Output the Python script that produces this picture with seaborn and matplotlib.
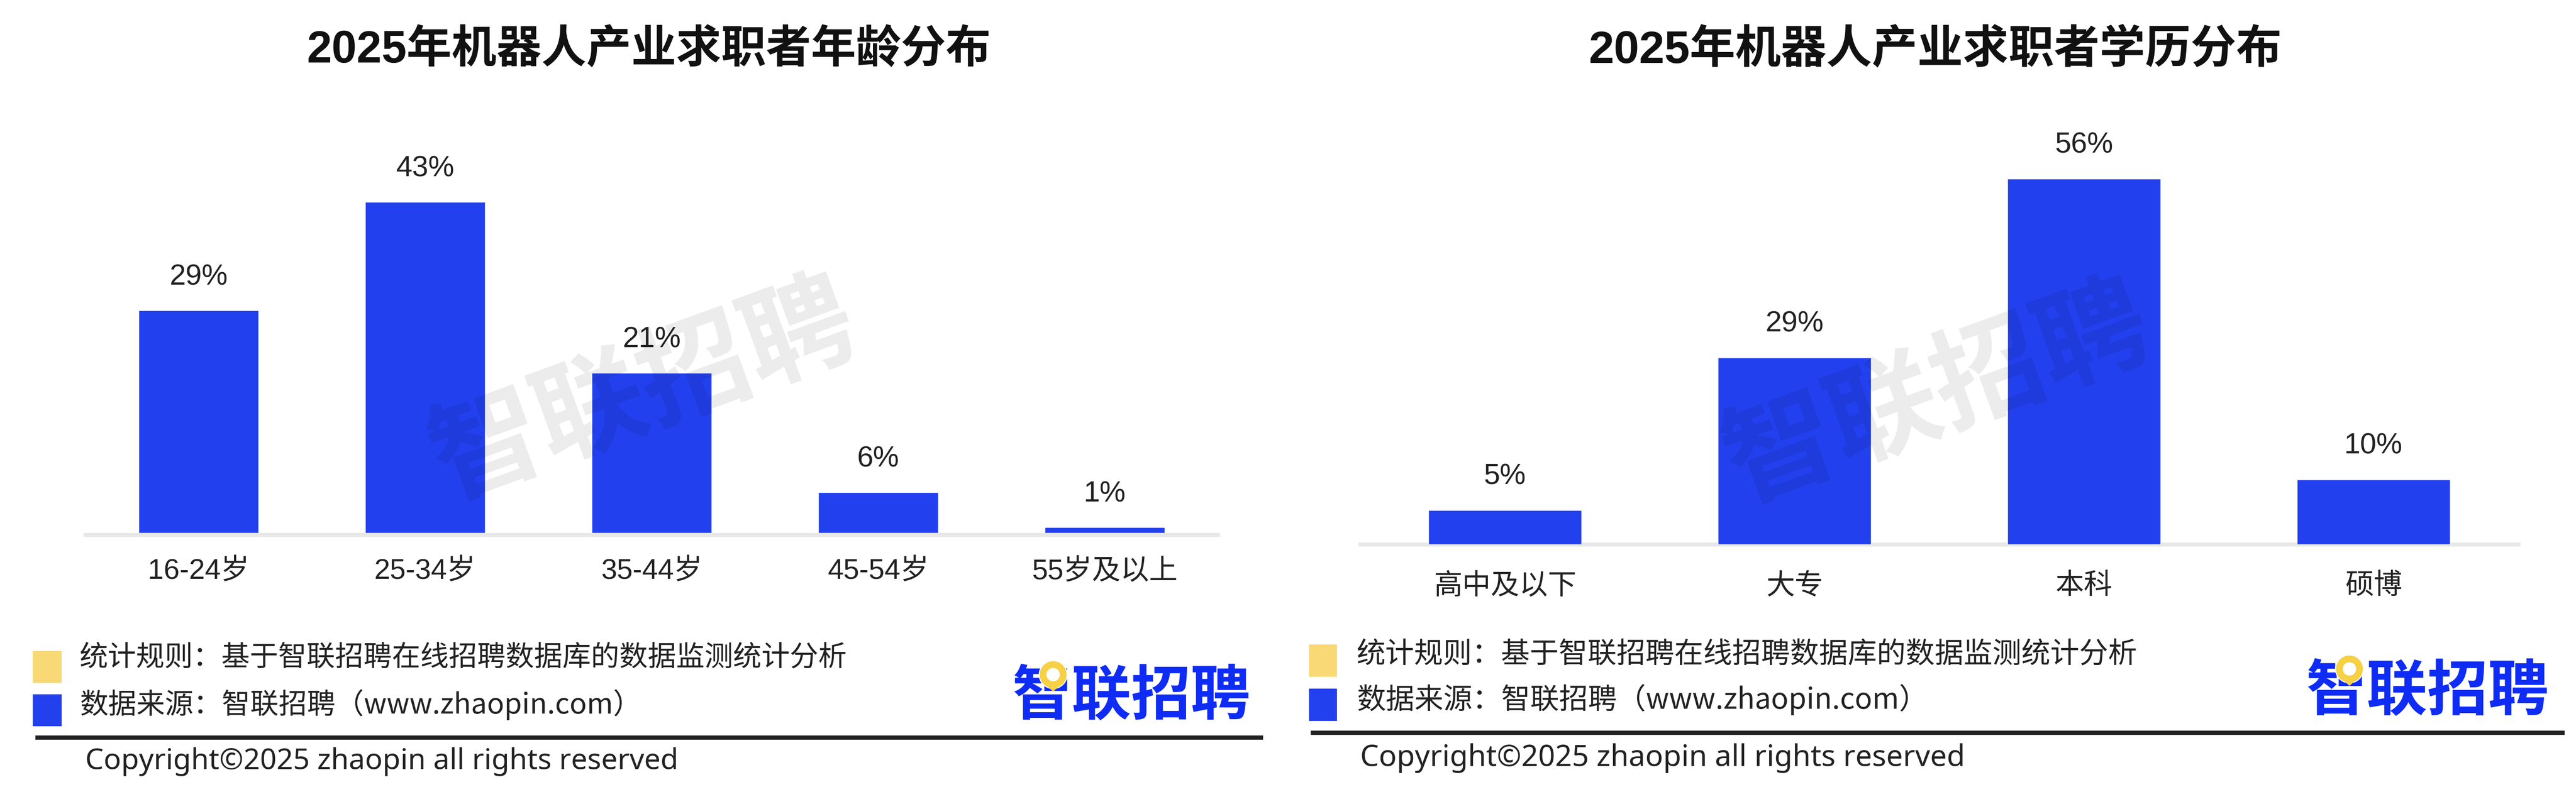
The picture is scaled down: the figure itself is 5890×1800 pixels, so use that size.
import matplotlib
matplotlib.use("Agg")
import matplotlib.pyplot as plt
import seaborn as sns
import pandas as pd
from matplotlib.patches import Rectangle, Circle, Polygon

sns.set_theme(style="white")
FONT = ['Liberation Sans', 'Noto Sans CJK SC', 'DejaVu Sans']
CJK = ['Noto Sans CJK SC', 'DejaVu Sans']
plt.rcParams['font.family'] = FONT

age_labels = ["16-24岁", "25-34岁", "35-44岁", "45-54岁", "55岁及以上"]
age_heights = [28.9, 43, 20.8, 5.3, 0.75]
age_texts = ["29%", "43%", "21%", "6%", "1%"]
edu_labels = ["高中及以下", "大专", "本科", "硕博"]
edu_heights = [5.2, 28.6, 56, 9.9]
edu_texts = ["5%", "29%", "56%", "10%"]
title_age = "2025年机器人产业求职者年龄分布"
title_edu = "2025年机器人产业求职者学历分布"
rule_text = "统计规则：基于智联招聘在线招聘数据库的数据监测统计分析"
source_text = "数据来源：智联招聘（www.zhaopin.com）"
copyright_text = "Copyright©2025 zhaopin all rights reserved"
brand = "智联招聘"

W, H = 5890, 1800
BLUE = "#2340EE"
BRAND_BLUE = "#0F2CF5"
YELLOW = "#F9D976"
PIN = "#F6D045"
DARK = "#222222"

fig = plt.figure(figsize=(W / 100, H / 100), dpi=100, facecolor="white")


def panel(labels, values, texts, x0, x1, y_base, y_top, px_per_unit, tick_pad, outward, label_pad):
    ax = fig.add_axes([x0 / W, 1 - y_base / H, (x1 - x0) / W, (y_base - y_top) / H])
    df = pd.DataFrame({"cat": labels, "val": values})
    sns.barplot(data=df, x="cat", y="val", color=BLUE, saturation=1, width=0.53, ax=ax, zorder=3)
    ax.set_xlim(-0.5, len(labels) - 0.5)
    ax.set_ylim(0, (y_base - y_top) / px_per_unit)
    ax.set_xlabel("")
    ax.set_ylabel("")
    ax.set_yticks([])
    ax.patch.set_alpha(0)
    for s in ("top", "left", "right"):
        ax.spines[s].set_visible(False)
    ax.spines["bottom"].set_color("#E8E8E8")
    ax.spines["bottom"].set_linewidth(6.5)
    ax.spines["bottom"].set_position(("outward", outward))
    ax.spines["bottom"].set_zorder(1)
    ax.tick_params(axis="x", length=0, pad=tick_pad, labelsize=47, labelcolor=DARK)
    ax.bar_label(ax.containers[0], labels=texts, padding=label_pad, fontsize=48, color=DARK)
    return ax


panel(age_labels, age_heights, age_texts, 195, 2785, 1219, 300, 17.6, 38, 3.2, 32)
panel(edu_labels, edu_heights, edu_texts, 3110, 5758, 1245, 300, 14.93, 47.5, 0, 33)

ov = fig.add_axes([0, 0, 1, 1], zorder=5)
ov.set_xlim(0, W)
ov.set_ylim(H, 0)
ov.axis("off")
ov.patch.set_alpha(0)


def footer(title, title_x, title_size, sq_x, sq_w, sq_y1, sq_y2, sq_h, text_x, text_y1, text_y2,
           text_size, line_x0, line_x1, line_y, copy_x, copy_y, copy_size,
           logo_x, logo_y, logo_size, ring, wm):
    ov.text(title_x, 116, title, ha="center", va="center", fontsize=title_size, fontweight="bold",
            color="#111111")
    ov.add_patch(Rectangle((sq_x, sq_y1), sq_w, sq_h, color=YELLOW, lw=0))
    ov.add_patch(Rectangle((sq_x, sq_y2), sq_w, sq_h, color=BLUE, lw=0))
    ov.text(text_x, text_y1, rule_text, ha="left", va="center", fontsize=text_size, color=DARK, family=CJK)
    ov.text(text_x, text_y2, source_text, ha="left", va="center", fontsize=text_size, color=DARK, family=CJK)
    ov.plot([line_x0, line_x1], [line_y, line_y], color="#222222", lw=7, solid_capstyle="butt")
    ov.text(copy_x, copy_y, copyright_text, ha="left", va="center", fontsize=copy_size, color=DARK,
            family="Noto Sans")
    ov.text(logo_x, logo_y, brand, ha="center", va="center", fontsize=logo_size, color=BRAND_BLUE,
            fontweight="bold", family=CJK)
    rx, ry = ring
    ov.add_patch(Circle(ring, 33, facecolor="white", edgecolor="none", zorder=5.5))
    ov.add_patch(Polygon([(rx - 20, ry + 20), (rx + 20, ry + 20), (rx, ry + 39)], color=PIN, lw=0, zorder=6))
    ov.add_patch(Circle(ring, 23, facecolor="white", edgecolor=PIN, lw=11, zorder=6))
    ov.text(wm[0], wm[1], brand, ha="center", va="center", fontsize=182, color="black", alpha=0.08,
            rotation=20, rotation_mode="anchor", fontweight="bold", family=CJK, zorder=7)


footer(title_age, 1484, 74, 75, 66, 1489, 1588, 73, 182, 1505, 1612, 46.8,
       81, 2888, 1687, 195, 1742, 47.7, 2587, 1594, 98, (2408, 1543), (1472, 898))
footer(title_edu, 4425, 75, 2993, 64, 1474, 1575, 74, 3102, 1497, 1600, 47.6,
       2997, 5864, 1676, 3110, 1734, 48.6, 5551, 1584, 100, (5372, 1530), (4430, 905))

fig.savefig("out.png", dpi=100, facecolor="white")
